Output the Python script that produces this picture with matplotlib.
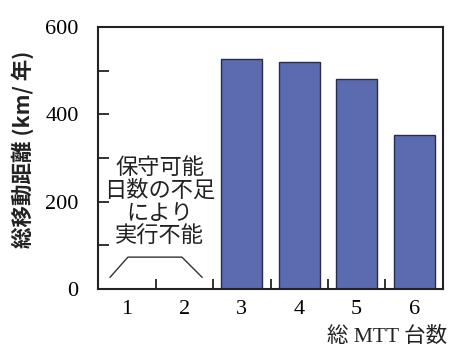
import matplotlib.pyplot as plt

# 総MTT台数ごとの年間総移動距離
units = [1, 2, 3, 4, 5, 6]
distance = [0, 0, 526, 520, 480, 353]
y_major = [0, 200, 400, 600]
y_minor = [100, 300, 500]
note = "保守可能\n日数の不足\nにより\n実行不能"

serif = ['Liberation Serif', 'Noto Sans CJK JP']
gothic = ['Noto Sans CJK JP', 'DejaVu Sans']

fig = plt.figure(figsize=(4.49, 3.47), dpi=100)
ax = fig.add_axes([0.2183, 0.1671, 0.7683, 0.7551])

ax.bar(units[2:], distance[2:], width=0.72, color='#5b6bb0',
       edgecolor='#2b2d45', linewidth=1.0)

ax.set_xlim(0.5, 6.5)
ax.set_ylim(0, 600)

for s in ax.spines.values():
    s.set_linewidth(1.5)
    s.set_color('#222222')

# 横軸: ラベルは区分の中央、目盛線は区分の境界
ax.set_xticks(units)
ax.set_xticklabels([str(u) for u in units], family=serif, fontsize=16)
ax.set_xticks([1.5, 2.5, 3.5, 4.5, 5.5], minor=True)
ax.tick_params(axis='x', which='major', length=0, pad=8)
ax.tick_params(axis='x', which='minor', direction='in', length=7,
               width=1.3, color='#222222')

# 縦軸
ax.set_yticks(y_major)
ax.set_yticklabels([str(v) for v in y_major], family=serif, fontsize=16)
ax.set_yticks(y_minor, minor=True)
ax.tick_params(axis='y', which='both', direction='in', length=8,
               width=1.3, color='#222222', pad=14)

# 実行不能区間の注記と括弧線
ax.text(1.57, 200, note, ha='center', va='center', family=gothic,
        fontsize=16, linespacing=1.0, color='#222222')
ax.plot([0.71, 1.02, 1.96, 2.31], [27, 73, 73, 27], color='#333333', lw=1.0)

fig.text(0.05, 0.57, "総移動距離 (km/ 年)", rotation=90, ha='center',
         va='center', family=['Noto Sans CJK JP', 'DejaVu Sans'],
         fontsize=15.5, fontweight='bold', color='#222222')
fig.text(0.995, 0.03, "総 MTT 台数", ha='right', va='center',
         family=serif, fontsize=15.5, color='#222222')

fig.savefig('out.png', dpi=100)
